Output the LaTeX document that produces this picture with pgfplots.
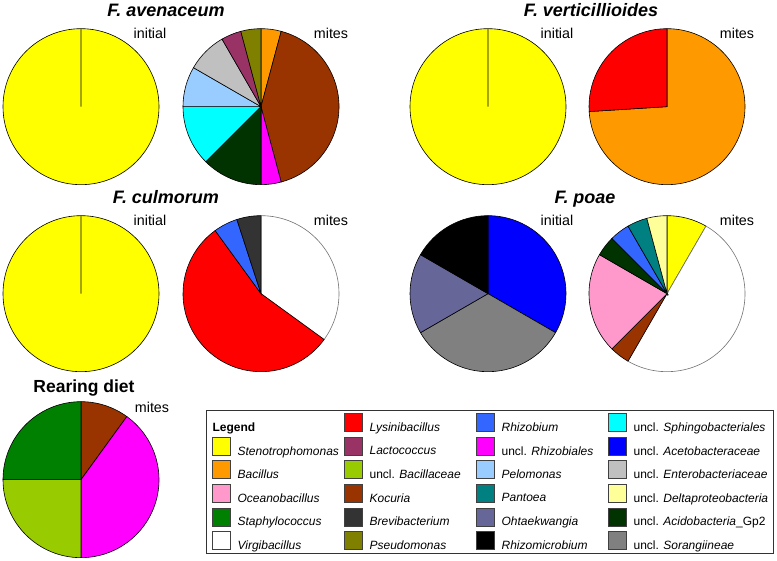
\documentclass[border=0pt]{standalone}
\usepackage{pgfplots}
\pgfplotsset{compat=1.18}
\usepackage{pgfplotstable}
\usepackage{fontspec}
\setmainfont{Liberation Sans}

\definecolor{cSt}{HTML}{FFFF00}
\definecolor{cBa}{HTML}{FF9900}
\definecolor{cOc}{HTML}{FF99CC}
\definecolor{cSa}{HTML}{008000}
\definecolor{cVi}{HTML}{FFFFFF}
\definecolor{cLy}{HTML}{FF0000}
\definecolor{cLa}{HTML}{993366}
\definecolor{cBc}{HTML}{99CC00}
\definecolor{cKo}{HTML}{993300}
\definecolor{cBr}{HTML}{333333}
\definecolor{cPs}{HTML}{808000}
\definecolor{cRb}{HTML}{3366FF}
\definecolor{cRz}{HTML}{FF00FF}
\definecolor{cPe}{HTML}{99CCFF}
\definecolor{cPa}{HTML}{008080}
\definecolor{cOh}{HTML}{666699}
\definecolor{cRm}{HTML}{000000}
\definecolor{cSp}{HTML}{00FFFF}
\definecolor{cAt}{HTML}{0000FF}
\definecolor{cEn}{HTML}{C0C0C0}
\definecolor{cDe}{HTML}{FFFF99}
\definecolor{cAc}{HTML}{003300}
\definecolor{cSo}{HTML}{808080}

% slices: start and end, degrees clockwise from 12 o'clock
\pgfplotstableread{
x y s e c
81 106 0 360 st
}\tabAvI
\pgfplotstableread{
x y s e c
261 106 0 15 ba
261 106 15 165 ko
261 106 165 180 rz
261 106 180 225 ac
261 106 225 270 sp
261 106 270 300 pe
261 106 300 330 en
261 106 330 345 la
261 106 345 360 ps
}\tabAvM
\pgfplotstableread{
x y s e c
488 106 0 360 st
}\tabVeI
\pgfplotstableread{
x y s e c
667 106 0 266.4 ba
667 106 266.4 360 ly
}\tabVeM
\pgfplotstableread{
x y s e c
81 293 0 360 st
}\tabCuI
\pgfplotstableread{
x y s e c
261 293 0 126 vi
261 293 126 324 ly
261 293 324 342 rb
261 293 342 360 br
}\tabCuM
\pgfplotstableread{
x y s e c
488 293 0 120 at
488 293 120 240 so
488 293 240 300 oh
488 293 300 360 rm
}\tabPoI
\pgfplotstableread{
x y s e c
667 293 0 30 st
667 293 30 210 vi
667 293 210 225 ko
667 293 225 300 oc
667 293 300 315 ac
667 293 315 330 rb
667 293 330 345 pa
667 293 345 360 de
}\tabPoM
\pgfplotstableread{
x y s e c
81 479 0 36 ko
81 479 36 180 rz
81 479 180 270 bc
81 479 270 360 sa
}\tabRD

\pgfdeclareplotmark{nothing}{}

\pgfplotsset{
  pie/.style={
    scatter, only marks, mark=nothing, line width=0.6bp,
    forget plot,
    point meta=explicit symbolic,
    scatter/classes={
      st={fill=cSt,draw=black}, ba={fill=cBa,draw=black}, oc={fill=cOc,draw=black},
      sa={fill=cSa,draw=black}, vi={fill=cVi,draw=black!55}, ly={fill=cLy,draw=black},
      la={fill=cLa,draw=black}, bc={fill=cBc,draw=black}, ko={fill=cKo,draw=black},
      br={fill=cBr,draw=black}, ps={fill=cPs,draw=black}, rb={fill=cRb,draw=black},
      rz={fill=cRz,draw=black}, pe={fill=cPe,draw=black}, pa={fill=cPa,draw=black},
      oh={fill=cOh,draw=black}, rm={fill=cRm,draw=black}, sp={fill=cSp,draw=black},
      at={fill=cAt,draw=black}, en={fill=cEn,draw=black}, de={fill=cDe,draw=black},
      ac={fill=cAc,draw=black}, so={fill=cSo,draw=black}
    },
    visualization depends on={\thisrow{s} \as \wsa},
    visualization depends on={\thisrow{e} \as \wea},
    scatter/@pre marker code/.append code={%
      \pgfkeys{/pgf/fpu=false}%
      \pgftransformrotate{90}%
      \pgfpathmoveto{\pgfpointorigin}%
      \pgfpathlineto{\pgfpointpolar{-\wsa}{78bp}}%
      \pgfpatharc{-\wsa}{-\wea}{78bp}%
      \pgfpathclose
      \pgfusepath{fill,stroke}%
    },
  },
  sw/.style={fill=#1, draw=black!75, line width=1bp},
}

\newcommand\lgi[1]{\makebox[100bp][l]{\textit{#1}}}
\newcommand\lgu[1]{\makebox[100bp][l]{uncl. \textit{#1}}}
\newcommand\titlefont{\fontsize{18bp}{20bp}\selectfont\bfseries\itshape}
\newcommand\labfont{\fontsize{14.3bp}{16bp}\selectfont}

\begin{document}
\begin{tikzpicture}
\begin{axis}[
  width=777bp, height=560bp, scale only axis,
  xmin=0, xmax=777, ymin=0, ymax=560, y dir=reverse,
  hide axis, clip=false,
  legend image code/.code={\draw[#1] (0bp,-4.7bp) rectangle (18bp,13.3bp);},
  legend columns=6, transpose legend,
  legend cell align=left,
  legend style={at={(axis cs:206,409)}, anchor=north west,
    draw=black!80, line width=1.2bp, inner xsep=5bp, inner ysep=3bp,
    font=\fontsize{12bp}{14bp}\selectfont, row sep=4.6bp,
    nodes={inner sep=0pt, text depth=0pt},
    /tikz/every odd column/.append style={column sep=7bp},
    /tikz/every even column/.append style={column sep=6bp}},
]
\path (rel axis cs:0,0) (rel axis cs:1,1);

\addplot[pie] table[x=x,y=y,meta=c] {\tabAvI};
\addplot[pie] table[x=x,y=y,meta=c] {\tabAvM};
\addplot[pie] table[x=x,y=y,meta=c] {\tabVeI};
\addplot[pie] table[x=x,y=y,meta=c] {\tabVeM};
\addplot[pie] table[x=x,y=y,meta=c] {\tabCuI};
\addplot[pie] table[x=x,y=y,meta=c] {\tabCuM};
\addplot[pie] table[x=x,y=y,meta=c] {\tabPoI};
\addplot[pie] table[x=x,y=y,meta=c] {\tabPoM};
\addplot[pie] table[x=x,y=y,meta=c] {\tabRD};

\node[anchor=base, font=\titlefont] at (axis cs:166,15.7) {F. avenaceum};
\node[anchor=base, font=\titlefont] at (axis cs:591,15.7) {F. verticillioides};
\node[anchor=base, font=\titlefont] at (axis cs:166,203) {F. culmorum};
\node[anchor=base, font=\titlefont] at (axis cs:585,203) {F. poae};
\node[anchor=base, font=\fontsize{17.5bp}{20bp}\selectfont\bfseries] at (axis cs:84,392) {Rearing diet};

\node[anchor=base, font=\labfont] at (axis cs:150,38) {initial};
\node[anchor=base, font=\labfont] at (axis cs:331,38) {mites};
\node[anchor=base, font=\labfont] at (axis cs:557,38) {initial};
\node[anchor=base, font=\labfont] at (axis cs:737,38) {mites};
\node[anchor=base, font=\labfont] at (axis cs:150,225) {initial};
\node[anchor=base, font=\labfont] at (axis cs:331,225) {mites};
\node[anchor=base, font=\labfont] at (axis cs:557,225) {initial};
\node[anchor=base, font=\labfont] at (axis cs:737,225) {mites};
\node[anchor=base, font=\labfont] at (axis cs:152,412) {mites};

\addlegendimage{empty legend}
\addlegendentry{\makebox[100bp][l]{\hspace*{-25bp}\textbf{Legend}}}
\addlegendimage{sw=cSt}\addlegendentry{\lgi{Stenotrophomonas}}
\addlegendimage{sw=cBa}\addlegendentry{\lgi{Bacillus}}
\addlegendimage{sw=cOc}\addlegendentry{\lgi{Oceanobacillus}}
\addlegendimage{sw=cSa}\addlegendentry{\lgi{Staphylococcus}}
\addlegendimage{sw=cVi}\addlegendentry{\lgi{Virgibacillus}}
\addlegendimage{sw=cLy}\addlegendentry{\lgi{Lysinibacillus}}
\addlegendimage{sw=cLa}\addlegendentry{\lgi{Lactococcus}}
\addlegendimage{sw=cBc}\addlegendentry{\lgu{Bacillaceae}}
\addlegendimage{sw=cKo}\addlegendentry{\lgi{Kocuria}}
\addlegendimage{sw=cBr}\addlegendentry{\lgi{Brevibacterium}}
\addlegendimage{sw=cPs}\addlegendentry{\lgi{Pseudomonas}}
\addlegendimage{sw=cRb}\addlegendentry{\lgi{Rhizobium}}
\addlegendimage{sw=cRz}\addlegendentry{\lgu{Rhizobiales}}
\addlegendimage{sw=cPe}\addlegendentry{\lgi{Pelomonas}}
\addlegendimage{sw=cPa}\addlegendentry{\lgi{Pantoea}}
\addlegendimage{sw=cOh}\addlegendentry{\lgi{Ohtaekwangia}}
\addlegendimage{sw=cRm}\addlegendentry{\lgi{Rhizomicrobium}}
\addlegendimage{sw=cSp}\addlegendentry{uncl. \textit{Sphingobacteriales}}
\addlegendimage{sw=cAt}\addlegendentry{uncl. \textit{Acetobacteraceae}}
\addlegendimage{sw=cEn}\addlegendentry{uncl. \textit{Enterobacteriaceae}}
\addlegendimage{sw=cDe}\addlegendentry{uncl. \textit{Deltaproteobacteria}}
\addlegendimage{sw=cAc}\addlegendentry{uncl. \textit{Acidobacteria}\_Gp2}
\addlegendimage{sw=cSo}\addlegendentry{uncl. \textit{Sorangiineae}}
\end{axis}
\end{tikzpicture}
\end{document}
